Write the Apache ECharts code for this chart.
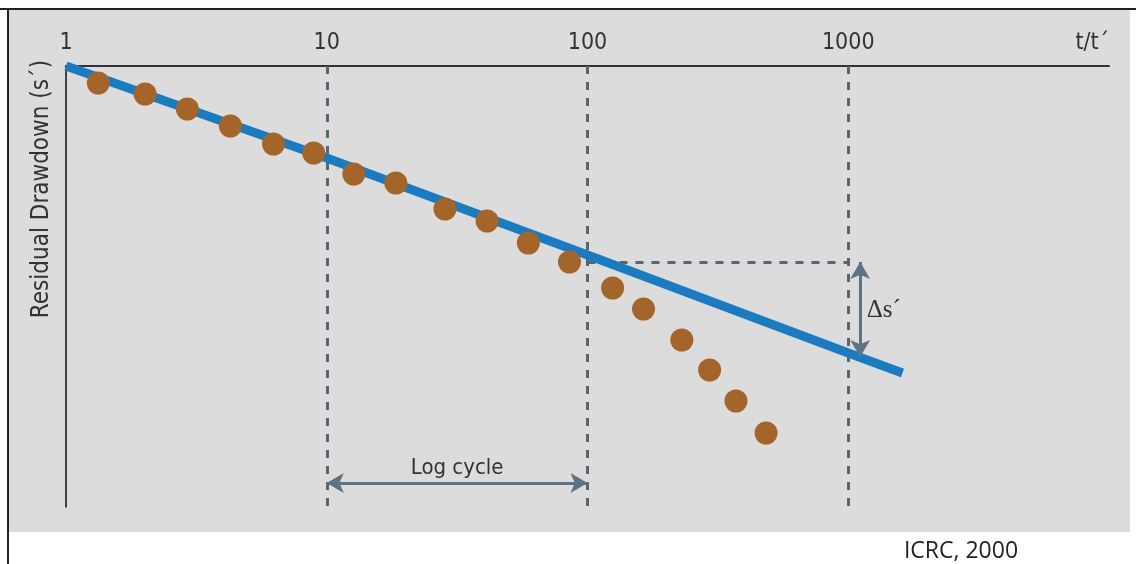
<!DOCTYPE html>
<html>
<head>
<meta charset="utf-8">
<script src="https://cdn.jsdelivr.net/npm/echarts@6/dist/echarts.min.js"></script>
<style>html,body{margin:0;padding:0;background:#fff}#c{width:1136px;height:564px}</style>
</head>
<body>
<div id="c"></div>
<script>
// ---- data ----
const xTickLabels = ['1', '10', '100', '1000', 't/t´'];
const yAxisTitle = 'Residual Drawdown (s´)';
// observed recovery points (t/t', residual drawdown)
const obsT = [1.33, 2.01, 2.92, 4.27, 6.25, 8.91, 12.7, 18.4, 28.4, 41.2, 59.3, 85.3, 124.8, 164, 230, 294, 371, 484];
const obsS = [0.17, 0.28, 0.43, 0.60, 0.78, 0.87, 1.08, 1.17, 1.43, 1.55, 1.77, 1.96, 2.22, 2.43, 2.74, 3.04, 3.35, 3.67];
// straight-line fit
const fitT = [1, 10, 100, 1000, 1614];
const fitS = [0, 0.92, 1.89, 2.87, 3.07];
// guide lines
const guideT = [10, 100, 1000];
const deltaLevel = [1.96, 2.91];   // top and bottom of delta s' arrow
const deltaT = 1111;
const cycleStart = 10, cycleEnd = 100, cycleLevel = 4.17;
const noteText = 'ICRC, 2000';

const NARROW = '"Liberation Sans Narrow","Arial Narrow","DejaVu Sans Condensed",sans-serif';
const chart = echarts.init(document.getElementById('c'), null, {renderer: 'canvas'});
const tickMap = {1: xTickLabels[0], 10: xTickLabels[1], 100: xTickLabels[2], 1000: xTickLabels[3], 10000: xTickLabels[4]};

chart.setOption({
  animation: false,
  backgroundColor: '#ffffff',
  graphic: [
    {type: 'rect', z: -10, shape: {x: 9, y: 10, width: 1121, height: 522}, style: {fill: '#dcdcdd'}},
    {type: 'line', z: -5, shape: {x1: 0, y1: 9, x2: 1136, y2: 9}, style: {stroke: '#222', lineWidth: 2}},
    {type: 'line', z: -5, shape: {x1: 8, y1: 8, x2: 8, y2: 564}, style: {stroke: '#222', lineWidth: 2}},
    {type: 'text', x: 42, y: 189, rotation: Math.PI / 2,
      style: {text: yAxisTitle, fill: '#333', font: '24px ' + NARROW, textAlign: 'center', textVerticalAlign: 'middle'}},
    {type: 'text', x: 961, y: 551,
      style: {text: noteText, fill: '#222', font: '23px "Open Sans",sans-serif', textAlign: 'center', textVerticalAlign: 'middle'}}
  ],
  grid: {left: 66, right: 27, top: 66, bottom: 57},
  xAxis: {
    type: 'log', logBase: 10, min: 1, max: 10000, position: 'top',
    axisLine: {show: true, lineStyle: {color: '#333', width: 2}},
    axisTick: {show: false},
    splitLine: {show: false},
    minorTick: {show: false},
    axisLabel: {
      show: true, margin: 11, color: '#333', fontSize: 23, fontFamily: NARROW,
      alignMaxLabel: 'right',
      formatter: v => tickMap[Math.round(v)] || ''
    }
  },
  yAxis: {
    type: 'value', inverse: true, min: 0, max: 4.41,
    axisLine: {show: true, lineStyle: {color: '#111', width: 1.5}},
    axisTick: {show: false}, axisLabel: {show: false}, splitLine: {show: false}
  },
  series: [
    {
      name: 'Straight line', type: 'line', z: 3,
      data: fitT.map((t, i) => [t, fitS[i]]),
      showSymbol: false, symbol: 'none',
      lineStyle: {color: '#1b7bc1', width: 9, cap: 'butt'},
      markLine: {
        silent: true, symbol: ['none', 'none'], z: 2,
        label: {show: false},
        lineStyle: {color: '#5b6570', width: 3, type: [8, 8]},
        data: guideT.map(t => ({xAxis: t})).concat([
          [{coord: [guideT[1], deltaLevel[0]]}, {coord: [guideT[2], deltaLevel[0]]}]
        ])
      }
    },
    {
      name: 'Observed', type: 'scatter', z: 4,
      data: obsT.map((t, i) => [t, obsS[i]]),
      symbol: 'circle', symbolSize: 23,
      itemStyle: {color: '#a3652a', opacity: 1},
      markLine: {
        silent: true, symbol: ['arrow', 'arrow'], symbolSize: [15, 17],
        lineStyle: {color: '#5d7383', width: 3, type: 'solid'},
        label: {show: false},
        data: [
          [{coord: [deltaT, deltaLevel[0]]}, {coord: [deltaT, deltaLevel[1]]}],
          [{coord: [cycleStart, cycleLevel], label: {show: true, formatter: 'Log cycle', position: 'insideMiddleTop',
              color: '#333', fontSize: 22, fontFamily: NARROW, distance: 4}},
           {coord: [cycleEnd, cycleLevel]}]
        ]
      },
      markPoint: {
        silent: true, symbol: 'circle', symbolSize: 1,
        itemStyle: {color: 'rgba(0,0,0,0)'},
        label: {show: true, position: 'right', distance: 6, color: '#333', fontSize: 25,
          fontFamily: '"Liberation Serif","DejaVu Serif",serif', formatter: 'Δs´'},
        data: [{coord: [deltaT, 2.44]}]
      }
    }
  ]
});
</script>
</body>
</html>
